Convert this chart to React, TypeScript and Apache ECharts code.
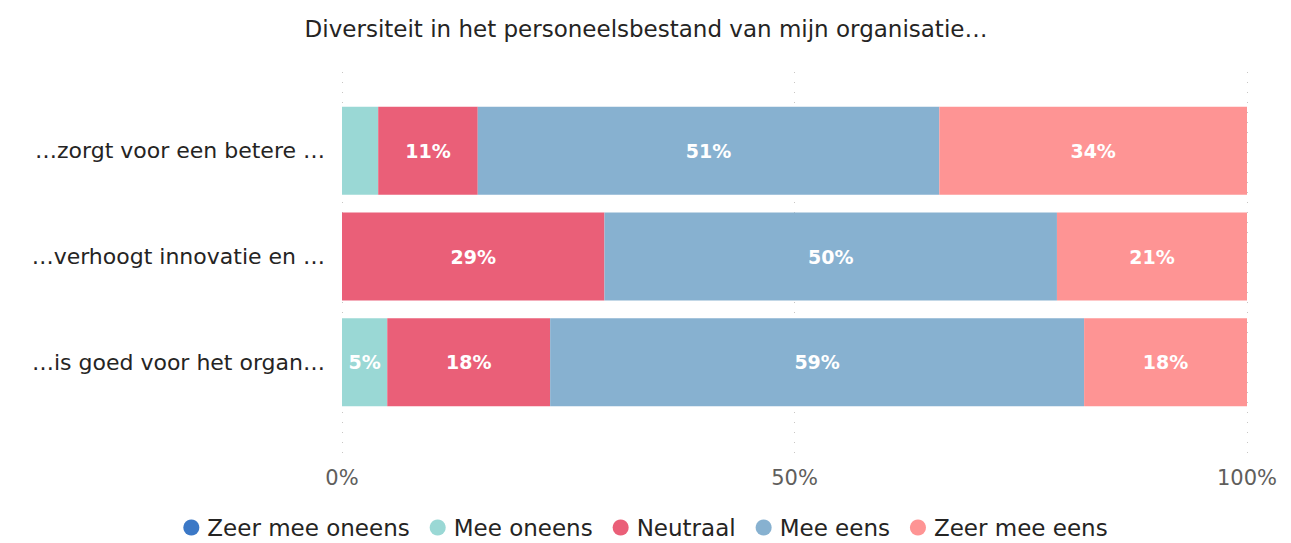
import React, { useEffect, useRef } from "react";
import * as echarts from "echarts";

const categories = [
  "…zorgt voor een betere …",
  "…verhoogt innovatie en …",
  "…is goed voor het organ…",
];
const seriesNames = ["Zeer mee oneens", "Mee oneens", "Neutraal", "Mee eens", "Zeer mee eens"];
const zeerMeeOneens = [0, 0, 0];
const meeOneens = [4, 0, 5];
const neutraal = [11, 29, 18];
const meeEens = [51, 50, 59];
const zeerMeeEens = [34, 21, 18];
const xTicks = [0, 50, 100];
const colors = ["#3B78C6", "#9AD8D5", "#EA5F78", "#87B1D0", "#FE9494"];
const title = "Diversiteit in het personeelsbestand van mijn organisatie…";

const FONT = "'DejaVu Sans', sans-serif";

export default function App() {
  const ref = useRef<HTMLDivElement>(null);
  useEffect(() => {
    document.body.style.margin = "0";
    if (!ref.current) return;
    const chart = echarts.init(ref.current, undefined, { renderer: "svg" });
    const values = [zeerMeeOneens, meeOneens, neutraal, meeEens, zeerMeeEens];
    const series: any[] = values.map((vals, i) => ({
      name: seriesNames[i],
      type: "bar",
      stack: "total",
      xAxisIndex: 0,
      yAxisIndex: 0,
      barWidth: 88,
      itemStyle: { color: colors[i] },
      label: {
        show: true,
        position: "inside",
        color: "#ffffff",
        fontFamily: FONT,
        fontSize: 19,
        fontWeight: "bold",
        formatter: (p: any) => (p.value >= 5 ? p.value + "%" : ""),
      },
      data: vals,
    }));
    series.push({
      type: "bar",
      xAxisIndex: 1,
      yAxisIndex: 1,
      data: [],
      silent: true,
    });
    chart.setOption({
      animation: false,
      title: {
        text: title,
        left: 641,
        textAlign: "center",
        top: 12,
        textStyle: { fontFamily: FONT, fontSize: 23, fontWeight: "normal", color: "#252423" },
      },
      legend: {
        data: seriesNames,
        top: 511,
        left: "center",
        icon: "circle",
        itemWidth: 16,
        itemHeight: 16,
        itemGap: 20,
        textStyle: { fontFamily: FONT, fontSize: 23, color: "#252423", padding: [0, 0, 0, 3] },
      },
      grid: [
        { left: 342, right: 44, top: 98, height: 317, containLabel: false },
        { left: 342, right: 44, top: 72, height: 383, containLabel: false },
      ],
      xAxis: [
        {
          gridIndex: 0,
          type: "value",
          min: 0,
          max: 100,
          show: false,
        },
        {
          gridIndex: 1,
          type: "value",
          min: xTicks[0],
          max: xTicks[xTicks.length - 1],
          interval: xTicks[1] - xTicks[0],
          axisLine: { show: false },
          axisTick: { show: false },
          axisLabel: {
            formatter: "{value}%",
            fontFamily: FONT,
            fontSize: 21,
            color: "#605E5C",
            margin: 12,
          },
          splitLine: { show: true, lineStyle: { type: [1, 9], color: "#C8C6C4", width: 1 } },
        },
      ],
      yAxis: [
        {
          gridIndex: 0,
          type: "category",
          data: categories,
          inverse: true,
          axisLine: { show: false },
          axisTick: { show: false },
          axisLabel: {
            fontFamily: FONT,
            fontSize: 22,
            color: "#252423",
            margin: 17,
          },
        },
        {
          gridIndex: 1,
          type: "value",
          show: false,
        },
      ],
      series,
    });
    return () => chart.dispose();
  }, []);
  return <div ref={ref} style={{ width: 1291, height: 543 }} />;
}
